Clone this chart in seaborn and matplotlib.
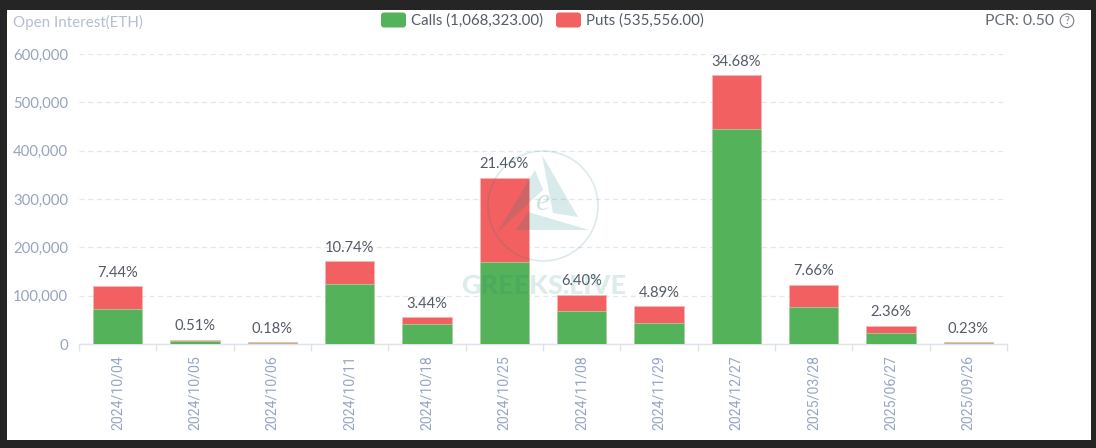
import matplotlib
matplotlib.use("Agg")
import matplotlib.pyplot as plt
from matplotlib.patches import Circle, FancyBboxPatch, Polygon, Rectangle
import numpy as np
import pandas as pd
import seaborn as sns

dates = ["2024/10/04", "2024/10/05", "2024/10/06", "2024/10/11", "2024/10/18", "2024/10/25",
         "2024/11/08", "2024/11/29", "2024/12/27", "2025/03/28", "2025/06/27", "2025/09/26"]
calls = [72000, 6000, 2000, 125000, 42000, 170000, 68000, 43000, 444000, 77000, 22000, 1500]
puts = [47000, 3000, 1200, 47000, 13000, 174000, 34000, 35000, 112000, 46000, 16000, 2200]
shares = ["7.44%", "0.51%", "0.18%", "10.74%", "3.44%", "21.46%",
          "6.40%", "4.89%", "34.68%", "7.66%", "2.36%", "0.23%"]
y_ticks = [0, 100000, 200000, 300000, 400000, 500000, 600000]
calls_label = "Calls (1,068,323.00)"
puts_label = "Puts (535,556.00)"
pcr_label = "PCR: 0.50"
y_title = "Open Interest(ETH)"
watermark = "GREEKS.LIVE"

GREEN = "#54b35a"
RED = "#f26062"
W, H = 1096, 448

sns.set_theme(style="white")
plt.rcParams["font.family"] = ["Lato", "DejaVu Sans"]

fig = plt.figure(figsize=(W / 100, H / 100), dpi=100, facecolor="#252525")
fig.patches.append(Rectangle((7 / W, 1 - 440 / H), 1084 / W, 430 / H, transform=fig.transFigure,
                             facecolor="white", edgecolor="none", zorder=-1))

ax = fig.add_axes([79 / W, 1 - 344 / H, 928 / W, 290 / H], facecolor="none")
df = pd.DataFrame({"date": dates, "calls": calls, "puts": puts})
df["total"] = df["calls"] + df["puts"]
sns.barplot(data=df, x="date", y="total", color=RED, saturation=1, width=0.64, ax=ax,
            edgecolor="#fbb4b5", linewidth=0.5, zorder=3)
sns.barplot(data=df, x="date", y="calls", color=GREEN, saturation=1, width=0.64, ax=ax,
            edgecolor="#a9dcac", linewidth=0.5, zorder=3)

ax.set_xlim(-0.5, 11.5)
ax.set_ylim(0, 600000)
ax.set_xlabel("")
ax.set_ylabel("")
ax.set_yticks(y_ticks)
ax.set_yticklabels([f"{v:,}" for v in y_ticks], fontsize=10.7, color="#98a3bf")
ax.tick_params(axis="y", length=0, pad=8)
ax.set_xticks(range(len(dates)))
ax.set_xticklabels(dates, rotation=90, fontsize=10.2, color="#98a6c6", family="Roboto")
ax.tick_params(axis="x", which="major", length=0, pad=8)
ax.set_xticks(np.arange(-0.5, 12), minor=True)
ax.tick_params(axis="x", which="minor", length=5, width=1, color="#dfe3ee", bottom=True)
ax.grid(axis="y", color="#e4e6f0", linestyle=(0, (4, 3)), linewidth=0.9, zorder=0)
ax.set_axisbelow(True)
for s in ["top", "right", "left"]:
    ax.spines[s].set_visible(False)
ax.spines["bottom"].set_color("#dfe3ee")
ax.spines["bottom"].set_linewidth(1)

for i, (t, s) in enumerate(zip(df["total"], shares)):
    ax.annotate(s, (i, t), xytext=(0, 4.5), textcoords="offset points", ha="center", va="bottom",
                fontsize=10.6, color="#555b66", zorder=5)

# overlay in pixel coordinates for header and watermark
ov = fig.add_axes([0, 0, 1, 1], facecolor="none")
ov.set_xlim(0, W)
ov.set_ylim(H, 0)
ov.axis("off")

ov.text(13, 22, y_title, fontsize=10.9, color="#b6bed4", va="center", ha="left")
ov.add_patch(FancyBboxPatch((381, 12.5), 25, 15, boxstyle="round,pad=0,rounding_size=3",
                            facecolor=GREEN, edgecolor="none"))
ov.add_patch(FancyBboxPatch((556, 12.5), 25, 15, boxstyle="round,pad=0,rounding_size=3",
                            facecolor=RED, edgecolor="none"))
ov.text(411, 20.5, calls_label, fontsize=10.85, color="#555b66", va="center", ha="left")
ov.text(586, 20.5, puts_label, fontsize=10.85, color="#555b66", va="center", ha="left")
ov.text(985, 21, pcr_label, fontsize=11.3, color="#666b75", va="center", ha="left")
ov.add_patch(Circle((1067, 20.7), 6.8, facecolor="none", edgecolor="#777c86", linewidth=0.8))
ov.text(1067, 20.7, "?", fontsize=8, color="#777c86", va="center", ha="center")

wm = "#0f7f78"
ov.add_patch(Circle((543, 206), 55, facecolor="none", edgecolor=wm, alpha=0.15, linewidth=1.2))
for pts in ([(535, 170), (543, 190), (532, 200), (497, 233)],
            [(542, 155), (578, 217), (553, 213)],
            [(528, 212), (589, 230), (516, 230)]):
    ov.add_patch(Polygon(pts, closed=True, facecolor=wm, edgecolor="none", alpha=0.16))
ov.text(542, 202, "e", fontsize=23, style="italic", family="Liberation Serif", color=wm, alpha=0.2,
        ha="center", va="center")
ov.text(543.5, 286, watermark, fontsize=19.5, fontweight=900, color=wm, alpha=0.14,
        ha="center", va="center")

fig.savefig("out.png", dpi=100, facecolor=fig.get_facecolor())
